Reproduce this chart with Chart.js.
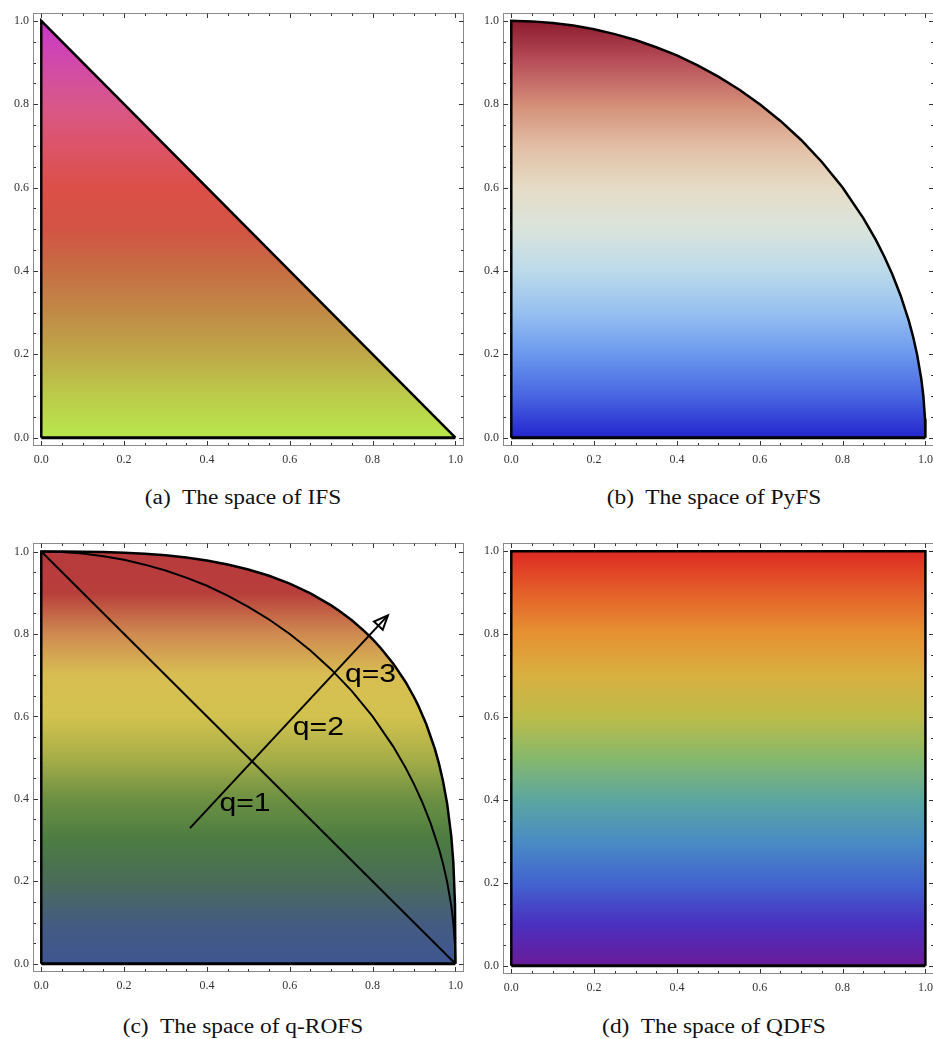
<!DOCTYPE html>
<html><head><meta charset="utf-8">
<script src="https://cdn.jsdelivr.net/npm/chart.js@4.4.0/dist/chart.umd.min.js"></script>
<style>
html,body{margin:0;padding:0;background:#fff;overflow:hidden;width:933px;height:1039px;position:relative}
canvas{position:absolute}
.cap{position:absolute;width:400px;text-align:center;font-family:"Liberation Serif","Times New Roman",serif;font-size:20px;line-height:26px;color:#111;white-space:pre;transform:scaleX(1.17);transform-origin:50% 50%}
</style></head><body>
<canvas id="cA" width="470" height="470" style="left:0;top:0"></canvas>
<canvas id="cB" width="470" height="470" style="left:470px;top:0"></canvas>
<canvas id="cC" width="470" height="470" style="left:0;top:530px"></canvas>
<canvas id="cD" width="470" height="470" style="left:470px;top:530px"></canvas>
<div class="cap" style="left:43px;top:484px">(a)  The space of IFS</div>
<div class="cap" style="left:514px;top:484px">(b)  The space of PyFS</div>
<div class="cap" style="left:43px;top:1013px">(c)  The space of q-ROFS</div>
<div class="cap" style="left:514px;top:1013px">(d)  The space of QDFS</div>
<script>
// ---- tick labels ----
const tickValues = [0, 0.2, 0.4, 0.6, 0.8, 1.0];
const minorTickValues = [0.05, 0.1, 0.15, 0.25, 0.3, 0.35, 0.45, 0.5, 0.55, 0.65, 0.7, 0.75, 0.85, 0.9, 0.95];

// ---- colour stops (from y=0 at bottom to y=1 at top) ----
const stopPositions = [0, 0.1, 0.2, 0.3, 0.4, 0.5, 0.6, 0.7, 0.8, 0.9, 1.0];
const ifsColors   = ['#b8e84c','#bccb4a','#bea848','#c18a46','#c66e43','#d25444','#dc4f48','#dc5468','#d8578a','#d249aa','#c838c8'];
const pyfsColors  = ['#2424cc','#4866e2','#6b98ee','#96c0f0','#bcdaea','#dae4dc','#e6dcc6','#e2bea4','#d48e78','#b8505a','#8c1a2e'];
const qrofsColors = ['#3e5592','#445c80','#4a6c58','#4c7c42','#6c9042','#a8ae48','#d2c24e','#d8be52','#cf8a50','#b83e3c','#b83a3c'];
const qdfsColors  = ['#6a1b98','#4a30c0','#4264d0','#4a8cc4','#5ca6a0','#86b86c','#bcbc4a','#d8b040','#e69232','#e5602a','#dc2a22'];

// ---- bottom edge (y = 0) shared by all regions ----
const baseX = [0, 1];
const baseY = [0, 0];

// ---- (a) IFS region boundary ----
const ifsX = [0, 0, 1];
const ifsY = [0, 1, 0];

// ---- quarter circle (PyFS boundary, q=2 curve) ----
const circX = [0, 0.05, 0.1, 0.15, 0.2, 0.25, 0.3, 0.35, 0.4, 0.45, 0.5, 0.55, 0.6, 0.65, 0.7, 0.75, 0.8, 0.85, 0.88, 0.9, 0.92, 0.94, 0.96, 0.97, 0.98, 0.99, 0.995, 0.999, 1];
const circY = [1, 0.9987, 0.995, 0.9887, 0.98, 0.9682, 0.954, 0.9367, 0.917, 0.893, 0.866, 0.8352, 0.8, 0.7599, 0.7141, 0.6614, 0.6, 0.5268, 0.475, 0.4359, 0.3919, 0.3412, 0.28, 0.2431, 0.199, 0.141, 0.1, 0.045, 0];

// ---- (b) PyFS region boundary: left edge then the quarter circle ----
const pyfsX = [0].concat(circX);
const pyfsY = [0].concat(circY);

// ---- (c) q-ROFS curves ----
const q3X = [0, 0, 0.05, 0.1, 0.15, 0.2, 0.25, 0.3, 0.35, 0.4, 0.45, 0.5, 0.55, 0.6, 0.65, 0.7, 0.72, 0.75, 0.78, 0.8, 0.82, 0.85, 0.88, 0.9, 0.91, 0.93, 0.95, 0.96, 0.97, 0.98, 0.99, 0.995, 0.999, 1];
const q3Y = [0, 1, 1, 0.9997, 0.9989, 0.9973, 0.9948, 0.9909, 0.9855, 0.9783, 0.9687, 0.9565, 0.9412, 0.9221, 0.8985, 0.8694, 0.8558, 0.8331, 0.807, 0.7874, 0.7655, 0.7281, 0.683, 0.6471, 0.6269, 0.5805, 0.5225, 0.4866, 0.4436, 0.389, 0.3097, 0.2462, 0.1442, 0];
const q2X = circX;
const q2Y = circY;
const q1X = [0, 1];
const q1Y = [1, 0];
const arrowX = [0.359, 0.837];
const arrowY = [0.329, 0.845];
const qLabels = ['q=1', 'q=2', 'q=3'];
const qLabelX = [0.492, 0.669, 0.795];
const qLabelY = [0.387, 0.573, 0.701];

// ---- (d) QDFS region boundary ----
const qdfsX = [0, 0, 1, 1];
const qdfsY = [0, 1, 1, 0];

function pts(xs, ys){ return xs.map((x,i)=>({x:x, y:ys[i]})); }

function gradientFill(colors){
  return function(ctx){
    const chart = ctx.chart;
    if (!chart.chartArea) return 'rgba(0,0,0,0)';
    const ys = chart.scales.y;
    const y0 = ys.getPixelForValue(0), y1 = ys.getPixelForValue(1);
    const g = chart.ctx.createLinearGradient(0, y0, 0, y1);
    stopPositions.forEach((p,i)=>g.addColorStop(p, colors[i]));
    return g;
  };
}

const framePlugin = {
  id: 'frame',
  afterDraw(chart){
    const {ctx, chartArea:a, scales:{x, y}} = chart;
    ctx.save();
    ctx.strokeStyle = '#8a8a8a'; ctx.lineWidth = 1;
    const L = Math.round(a.left)+0.5, T = Math.round(a.top)+0.5, R = Math.round(a.right)-0.5, B = Math.round(a.bottom)-0.5;
    ctx.strokeRect(L, T, R-L, B-T);
    ctx.strokeStyle = '#333';
    const draw = (vals, len) => {
      vals.forEach(v => {
        const px = Math.round(x.getPixelForValue(v))+0.5;
        const py = Math.round(y.getPixelForValue(v))+0.5;
        ctx.beginPath();
        ctx.moveTo(px, B); ctx.lineTo(px, B-len);
        ctx.moveTo(px, T); ctx.lineTo(px, T+len);
        ctx.moveTo(L, py); ctx.lineTo(L+len, py);
        ctx.moveTo(R, py); ctx.lineTo(R-len, py);
        ctx.stroke();
      });
    };
    draw(tickValues, 4.5);
    draw(minorTickValues, 2.5);
    ctx.restore();
  }
};

const annotPlugin = {
  id: 'annot',
  afterDatasetsDraw(chart){
    const {ctx, scales:{x, y}} = chart;
    ctx.save();
    const sx = x.getPixelForValue(arrowX[0]), sy = y.getPixelForValue(arrowY[0]);
    const tx = x.getPixelForValue(arrowX[1]), ty = y.getPixelForValue(arrowY[1]);
    const ang = Math.atan2(ty-sy, tx-sx);
    const len = 14, hw = 6;
    const bx = tx - len*Math.cos(ang), by = ty - len*Math.sin(ang);
    const nx = -Math.sin(ang), ny = Math.cos(ang);
    ctx.strokeStyle = '#000'; ctx.lineWidth = 2; ctx.lineJoin = 'miter';
    ctx.beginPath();
    ctx.moveTo(tx, ty);
    ctx.lineTo(bx + nx*hw, by + ny*hw);
    ctx.lineTo(bx - nx*hw, by - ny*hw);
    ctx.closePath();
    ctx.stroke();
    ctx.fillStyle = '#000';
    ctx.font = '26px "Liberation Sans", Arial, sans-serif';
    ctx.textAlign = 'center'; ctx.textBaseline = 'middle';
    qLabels.forEach((t,i)=>{
      ctx.save();
      ctx.translate(x.getPixelForValue(qLabelX[i]), y.getPixelForValue(qLabelY[i]));
      ctx.scale(1.16, 1);
      ctx.fillText(t, 0, 0);
      ctx.restore();
    });
    ctx.restore();
  }
};

function axis(isX, size){
  return {
    type: 'linear', min: -0.02, max: 1.02,
    grid: {display: false, drawTicks: false},
    border: {display: false},
    afterBuildTicks: s => { s.ticks = tickValues.map(v => ({value: v})); },
    afterFit: s => { if (isX) s.height = size; else s.width = size; },
    ticks: {
      color: '#333', padding: isX ? 7 : 4,
      font: {family: '"Liberation Serif", "Times New Roman", serif', size: 12},
      callback: v => Number(v).toFixed(1), maxRotation: 0, autoSkip: false
    }
  };
}

function makeChart(id, datasets, area, extraPlugins){
  return new Chart(document.getElementById(id), {
    type: 'scatter',
    data: {datasets: datasets},
    options: {
      responsive: false, animation: false, devicePixelRatio: 1,
      layout: {padding: {top: area.top, right: 470 - area.right, left: 0, bottom: 0}},
      plugins: {legend: {display: false}, tooltip: {enabled: false}},
      scales: {x: axis(true, 470 - area.bottom), y: axis(false, area.left)},
      elements: {point: {radius: 0, hoverRadius: 0}}
    },
    plugins: [framePlugin].concat(extraPlugins || [])
  });
}

function region(xs, ys, colors, w){
  return {data: pts(xs, ys), showLine: true, fill: 'origin', backgroundColor: gradientFill(colors),
    borderColor: '#000', borderWidth: w || 2.5, borderJoinStyle: 'miter', pointRadius: 0, tension: 0};
}
function curve(xs, ys, w){
  return {data: pts(xs, ys), showLine: true, fill: false, borderColor: '#000', borderWidth: w, pointRadius: 0, tension: 0};
}

// datasets earlier in the list are drawn on top, so the filled region comes last
makeChart('cA', [curve(baseX, baseY, 3), region(ifsX, ifsY, ifsColors)], {left: 33, right: 465, top: 12.5, bottom: 446});
makeChart('cB', [curve(baseX, baseY, 3), region(pyfsX, pyfsY, pyfsColors)], {left: 33, right: 466, top: 12.5, bottom: 446});
makeChart('cC', [curve(arrowX, arrowY, 2), curve(q1X, q1Y, 2), curve(q2X, q2Y, 2), curve(baseX, baseY, 3), region(q3X, q3Y, qrofsColors)],
  {left: 33, right: 465, top: 13.3, bottom: 442}, [annotPlugin]);
makeChart('cD', [curve(baseX, baseY, 3), region(qdfsX, qdfsY, qdfsColors)], {left: 33, right: 466, top: 13, bottom: 444});
</script>
</body></html>
